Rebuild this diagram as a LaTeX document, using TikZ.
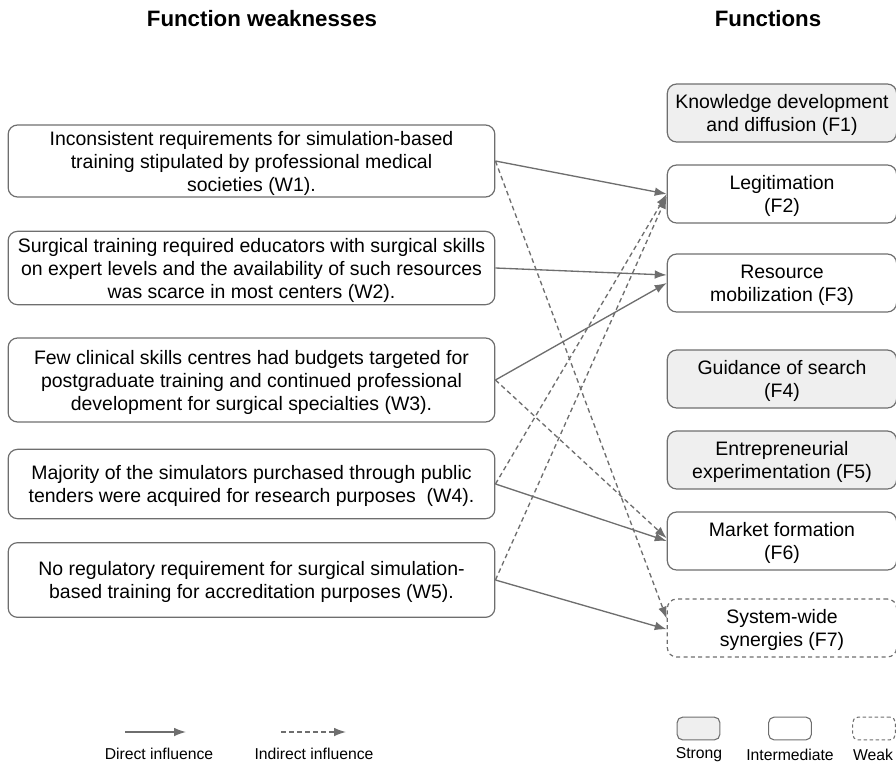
\documentclass[tikz,border=0pt]{standalone}
\usepackage{fontspec}
\setmainfont{Liberation Sans}
\usetikzlibrary{arrows.meta, positioning}
\definecolor{linegray}{HTML}{6E6E6E}
\definecolor{boxgray}{HTML}{EFEFEF}
\tikzstyle{title} = [font=\bfseries\fontsize{16.7}{20}\selectfont]
\tikzstyle{weakness} = [rectangle, rounded corners=7pt, draw=linegray, line width=0.9pt, minimum width=365pt, align=center, text depth=-4.5pt, font=\fontsize{14.6}{17.25}\selectfont]
\tikzstyle{function} = [rectangle, rounded corners=7pt, draw=linegray, line width=0.9pt, minimum width=172pt, minimum height=43.5pt, align=center, text depth=-3pt, font=\fontsize{14.6}{17.25}\selectfont]
\tikzstyle{strong} = [function, fill=boxgray]
\tikzstyle{weak} = [function, dash pattern=on 3pt off 2.5pt]
\tikzstyle{arrow} = [line width=1pt, draw=linegray, -{Latex[length=9pt, width=6.5pt]}]
\tikzstyle{indirect} = [arrow, dash pattern=on 3.5pt off 2.5pt]
\tikzstyle{legendbox} = [rectangle, rounded corners=4pt, draw=linegray, line width=0.8pt, minimum width=32pt, minimum height=17pt]
\tikzstyle{legendtext} = [font=\fontsize{11.8}{13}\selectfont]

\begin{document}
\begin{tikzpicture}[x=0.75pt, y=-0.75pt]
	\useasboundingbox (0,0) rectangle (896,764);
	\node (TitleW) [title] at (262,19) {Function weaknesses};
	\node (TitleF) [title] at (768,19) {Functions};
	
	% weaknesses
	\node (W1) [weakness, minimum height=54pt] at (251.5,161) {Inconsistent requirements for simulation-based\\training stipulated by professional medical\\societies (W1).};
	\node (W2) [weakness, minimum height=55pt] at (251.5,268) {Surgical training required educators with surgical skills\\on expert levels and the availability of such resources\\was scarce in most centers (W2).};
	\node (W3) [weakness, minimum height=63pt] at (251.5,380) {Few clinical skills centres had budgets targeted for\\postgraduate training and continued professional\\development for surgical specialties (W3).};
	\node (W4) [weakness, minimum height=52pt] at (251.5,484) {Majority of the simulators purchased through public\\tenders were acquired for research purposes\ \ (W4).};
	\node (W5) [weakness, minimum height=56pt] at (251.5,580) {No regulatory requirement for surgical simulation-\\based training for accreditation purposes (W5).};
	
	% functions
	\node (F1) [strong] at (782,113) {Knowledge development\\and diffusion (F1)};
	\node (F2) [function] at (782,194) {Legitimation\\(F2)};
	\node (F3) [function] at (782,283) {Resource\\mobilization (F3)};
	\node (F4) [strong] at (782,379) {Guidance of search\\(F4)};
	\node (F5) [strong] at (782,460) {Entrepreneurial\\experimentation (F5)};
	\node (F6) [function] at (782,541) {Market formation\\(F6)};
	\node (F7) [weak] at (782,628) {System-wide\\synergies (F7)};
	
	\draw [arrow] (W1.east) -- (F2.west);
	\draw [indirect] (W1.east) -- ([yshift=7pt]F7.west);
	\draw [arrow] (W2.east) -- ([yshift=6pt]F3.west);
	\draw [arrow] (W3.east) -- (F3.west);
	\draw [indirect] (W3.east) -- ([yshift=2pt]F6.west);
	\draw [arrow] (W4.east) -- (F6.west);
	\draw [indirect] (W4.east) -- (F2.west);
	\draw [arrow] (W5.east) -- ([yshift=-1pt]F7.west);
	\draw [indirect] (W5.east) -- ([yshift=-2pt]F2.west);
	
	% legend
	\coordinate (DirectA) at (125,732);
	\coordinate (DirectB) at (186,732);
	\coordinate (IndirectA) at (281,732);
	\coordinate (IndirectB) at (346,732);
	\draw [arrow] (DirectA) -- (DirectB);
	\draw [indirect] (IndirectA) -- (IndirectB);
	\node (DirectText) [legendtext] at (159,754) {Direct influence};
	\node (IndirectText) [legendtext] at (314,754) {Indirect influence};
	\node (StrongKey) [legendbox, fill=boxgray] at (698.5,728.5) {};
	\node (InterKey) [legendbox] at (790,728.5) {};
	\node (WeakKey) [legendbox, dash pattern=on 2.5pt off 2pt] at (874,728.5) {};
	\node (StrongText) [legendtext] at (699,755) {Strong};
	\node (InterText) [legendtext] at (790,755) {Intermediate};
	\node (WeakText) [legendtext] at (873,755) {Weak};
\end{tikzpicture}
\end{document}
